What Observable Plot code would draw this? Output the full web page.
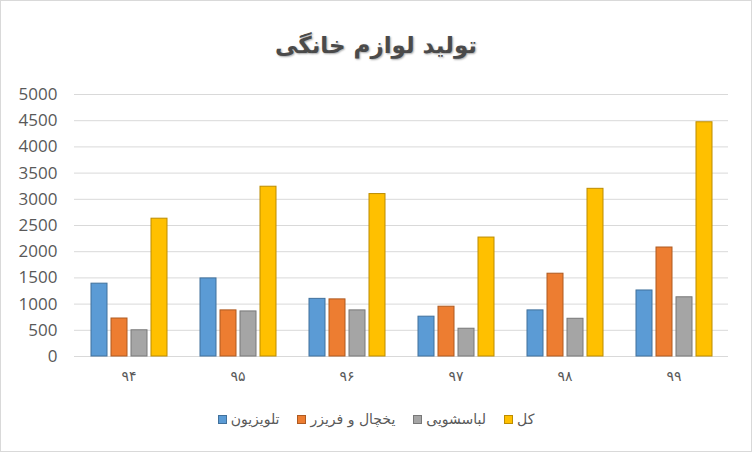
<!DOCTYPE html>
<html>
<head>
<meta charset="utf-8">
<script src="https://cdn.jsdelivr.net/npm/d3@7"></script>
<script src="https://cdn.jsdelivr.net/npm/@observablehq/plot@0.6"></script>
<style>
  html, body { margin: 0; padding: 0; background: #fff; }
  #chart {
    width: 750px; height: 450px; border: 1px solid #d9d9d9; position: relative;
    font-family: "Open Sans", "DejaVu Sans", sans-serif; color: #595959; overflow: hidden;
  }
  #title {
    height: 72px; box-sizing: border-box; padding-top: 29px; text-align: center;
    font-family: "DejaVu Sans", sans-serif; font-weight: bold; font-size: 23px; line-height: 30px;
    color: #4a4a4a; text-shadow: 1px 1px 2px rgba(0,0,0,0.35); letter-spacing: 0px;
  }
  #legend {
    display: flex; justify-content: center; gap: 18px; padding-top: 18px;
    font-family: "DejaVu Sans", sans-serif; font-size: 14px; color: #595959;
  }
  .item { display: flex; align-items: center; gap: 4px; }
  .sw { width: 9px; height: 9px; box-sizing: border-box; }
  [aria-label^="fx-axis"] text { font-size: 14px; font-family: "DejaVu Sans", sans-serif; }
</style>
</head>
<body>
<div id="chart">
  <div id="title" dir="rtl">تولید لوازم خانگی</div>
  <div id="plot"></div>
  <div id="legend"></div>
</div>
<script>
const years = ["۹۴", "۹۵", "۹۶", "۹۷", "۹۸", "۹۹"];
const seriesNames = ["تلویزیون", "یخچال و فریزر", "لباسشویی", "کل"];
const tv = [1390, 1490, 1100, 760, 880, 1260];
const fridge = [725, 880, 1090, 950, 1580, 2080];
const washer = [500, 860, 880, 530, 720, 1130];
const total = [2630, 3240, 3100, 2270, 3200, 4470];
const yTicks = [0, 500, 1000, 1500, 2000, 2500, 3000, 3500, 4000, 4500, 5000];
const fills = ["#5b9bd5", "#ed7d31", "#a5a5a5", "#ffc000"];
const strokes = ["#41719c", "#ae5a21", "#787878", "#bc8c00"];

const seriesValues = [tv, fridge, washer, total];
const rows = years.flatMap((yr, i) => seriesNames.map((s, j) => ({year: yr, series: s, value: seriesValues[j][i]})));

const plot = Plot.plot({
  width: 750,
  height: 320,
  marginLeft: 71,
  marginRight: 22,
  marginTop: 21,
  marginBottom: 37,
  style: {fontSize: "17px", fontFamily: "'Open Sans', 'DejaVu Sans', sans-serif", color: "#595959", background: "transparent"},
  facet: {data: rows, x: "year"},
  fx: {domain: years, padding: 0, axis: "bottom", tickSize: 0, tickPadding: 15, label: null},
  x: {domain: seriesNames, paddingInner: 0.22, paddingOuter: 0.8, axis: null},
  y: {domain: [0, 5000], ticks: yTicks, tickSize: 0, tickPadding: 17, label: null, tickFormat: d => String(d)},
  marks: [
    Plot.ruleY(yTicks, {stroke: "#d9d9d9", strokeWidth: 1}),
    ...seriesNames.map((s, j) => Plot.barY(rows, {
      filter: d => d.series === s,
      x: "series", y: "value",
      fill: fills[j], stroke: strokes[j], strokeWidth: 1
    }))
  ]
});
document.getElementById("plot").appendChild(plot);

const legend = document.getElementById("legend");
seriesNames.forEach((s, j) => {
  const it = document.createElement("div");
  it.className = "item";
  const sw = document.createElement("div");
  sw.className = "sw";
  sw.style.background = fills[j];
  sw.style.border = "1px solid " + strokes[j];
  const t = document.createElement("span");
  t.dir = "rtl";
  t.textContent = s;
  it.appendChild(sw);
  it.appendChild(t);
  legend.appendChild(it);
});
</script>
</body>
</html>
